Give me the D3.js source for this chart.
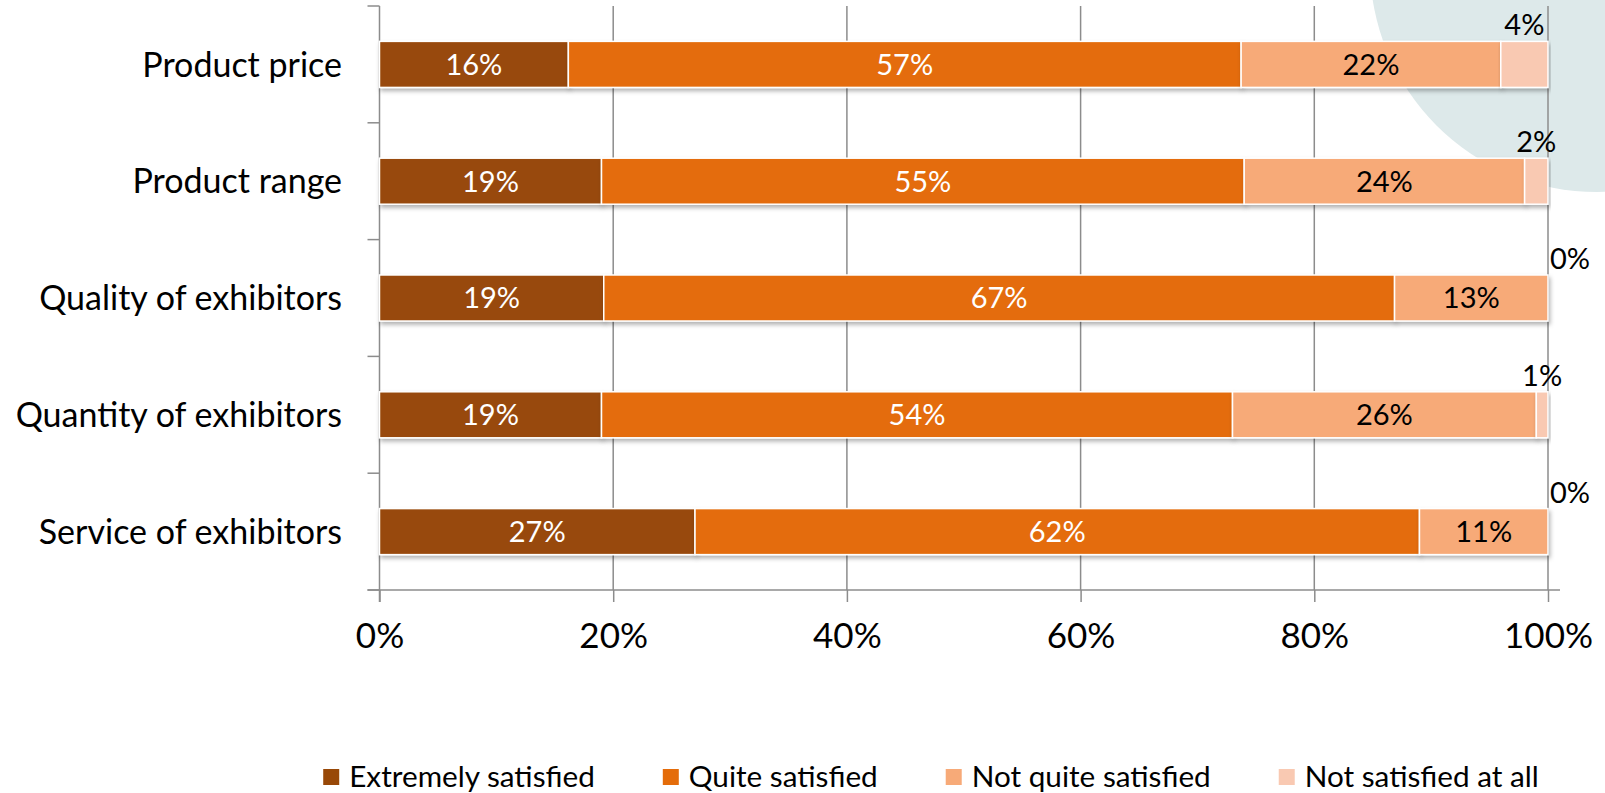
<!DOCTYPE html>
<html>
<head>
<meta charset="utf-8">
<script src="https://cdn.jsdelivr.net/npm/d3@7"></script>
<style>
  html, body { margin: 0; padding: 0; background: #fff; }
  svg { display: block; }
  text { font-family: Lato, "Open Sans", sans-serif; }
</style>
</head>
<body>
<svg id="chart" width="1605" height="793"></svg>
<script>
// Satisfaction survey, share of answers per aspect (percent)
const categories = ["Product price", "Product range", "Quality of exhibitors", "Quantity of exhibitors", "Service of exhibitors"];
const seriesNames = ["Extremely satisfied", "Quite satisfied", "Not quite satisfied", "Not satisfied at all"];
const extremelySatisfied = [16, 19, 19, 19, 27];
const quiteSatisfied     = [57, 55, 67, 54, 62];
const notQuiteSatisfied  = [22, 24, 13, 26, 11];
const notSatisfiedAtAll  = [4, 2, 0, 1, 0];
const xTickValues = [0, 0.2, 0.4, 0.6, 0.8, 1];

const colors = ["#984807", "#E46C0A", "#F7AA78", "#F9C9B2"];
const labelColors = ["#ffffff", "#ffffff", "#000000", "#000000"];

const seriesValues = [extremelySatisfied, quiteSatisfied, notQuiteSatisfied, notSatisfiedAtAll];
const rows = categories.map((c, i) => {
  const r = { category: c };
  seriesNames.forEach((s, j) => r[s] = seriesValues[j][i]);
  return r;
});

const svg = d3.select("#chart");
const plot = { left: 379.5, right: 1548, top: 6, bottom: 590 };

// decorative disc behind the chart
svg.append("circle")
  .attr("cx", 1597).attr("cy", -35).attr("r", 227)
  .attr("fill", "#DDE9EA");

const x = d3.scaleLinear().domain([0, 1]).range([plot.left, plot.right]);
const y = d3.scaleBand().domain(categories).range([plot.top, plot.bottom])
  .paddingInner(0.606).paddingOuter(0.303);

const gridColor = "#8C8C8C";

// vertical gridlines
svg.append("g").selectAll("line")
  .data(xTickValues.slice(1))
  .join("line")
  .attr("x1", d => x(d)).attr("x2", d => x(d))
  .attr("y1", plot.top).attr("y2", plot.bottom)
  .attr("stroke", gridColor).attr("stroke-width", 1.5);

// x axis
const xAxis = d3.axisBottom(x).tickValues(xTickValues)
  .tickFormat(d3.format(".0%")).tickSizeInner(12).tickSizeOuter(0).tickPadding(21);
const gx = svg.append("g").attr("transform", `translate(0,${plot.bottom})`).call(xAxis);
gx.select(".domain").attr("d", `M${plot.left - 12},0H${plot.right + 12}`)
  .attr("stroke", gridColor).attr("stroke-width", 1.5);
gx.selectAll(".tick line").attr("stroke", gridColor).attr("stroke-width", 1.5);
gx.selectAll(".tick text").attr("font-size", 35).attr("fill", "#000")
  .style("font-family", "Lato, 'Open Sans', sans-serif");

// y axis line with ticks between categories
const gy = svg.append("g");
gy.append("line")
  .attr("x1", plot.left).attr("x2", plot.left)
  .attr("y1", plot.top).attr("y2", plot.bottom + 12)
  .attr("stroke", gridColor).attr("stroke-width", 1.5);
const boundaries = categories.map(c => y(c) - y.step() * y.paddingOuter()).concat([plot.bottom]);
gy.selectAll("line.tk").data(boundaries).join("line").attr("class", "tk")
  .attr("x1", plot.left - 12).attr("x2", plot.left)
  .attr("y1", d => d).attr("y2", d => d)
  .attr("stroke", gridColor).attr("stroke-width", 1.5);
gy.selectAll("text").data(categories).join("text")
  .attr("x", 342).attr("y", d => y(d) + y.bandwidth() / 2)
  .attr("dy", "0.36em").attr("text-anchor", "end")
  .attr("font-size", 34).attr("fill", "#000").text(d => d);

// stacked 100% bars
const defs = svg.append("defs");
const f = defs.append("filter").attr("id", "shadow").attr("x", "-5%").attr("y", "-20%")
  .attr("width", "110%").attr("height", "160%");
f.append("feDropShadow").attr("dx", 1.5).attr("dy", 3).attr("stdDeviation", 2)
  .attr("flood-color", "#000").attr("flood-opacity", 0.3);

const stack = d3.stack().keys(seriesNames).offset(d3.stackOffsetExpand);
const layers = stack(rows);

const gBars = svg.append("g");
layers.forEach((layer, j) => {
  gBars.append("g").attr("fill", colors[j]).attr("filter", "url(#shadow)")
    .selectAll("rect").data(layer).join("rect")
    .attr("x", d => x(d[0]))
    .attr("y", d => y(d.data.category))
    .attr("width", d => Math.max(0, x(d[1]) - x(d[0])))
    .attr("height", y.bandwidth())
    .attr("stroke", "#fff").attr("stroke-width", 1.5);
});

// value labels
const gLab = svg.append("g");
layers.forEach((layer, j) => {
  const last = j === layers.length - 1;
  gLab.append("g").selectAll("text").data(layer).join("text")
    .attr("x", d => {
      const v = d.data[seriesNames[j]];
      if (last && v === 0) return x(d[1]) + 2;
      return (x(d[0]) + x(d[1])) / 2;
    })
    .attr("y", d => last ? y(d.data.category) - 6 : y(d.data.category) + y.bandwidth() / 2)
    .attr("dy", last ? 0 : "0.36em")
    .attr("text-anchor", d => (last && d.data[seriesNames[j]] === 0) ? "start" : "middle")
    .attr("font-size", 29)
    .attr("fill", labelColors[j])
    .text(d => d.data[seriesNames[j]] + "%");
});

// legend
const legend = svg.append("g");
const items = legend.selectAll("g").data(seriesNames).join("g");
items.append("rect").attr("width", 16).attr("height", 16).attr("y", 769)
  .attr("fill", (d, i) => colors[i]);
items.append("text").attr("x", 26).attr("y", 786.5).attr("font-size", 29.7)
  .attr("fill", "#000").text(d => d);
const widths = [];
items.each(function () { widths.push(26 + this.querySelector("text").getComputedTextLength()); });
const gap = 68;
const total = d3.sum(widths) + gap * (widths.length - 1);
let cursor = 931 - total / 2;
items.attr("transform", (d, i) => {
  const t = `translate(${cursor},0)`;
  cursor += widths[i] + gap;
  return t;
});
</script>
</body>
</html>
